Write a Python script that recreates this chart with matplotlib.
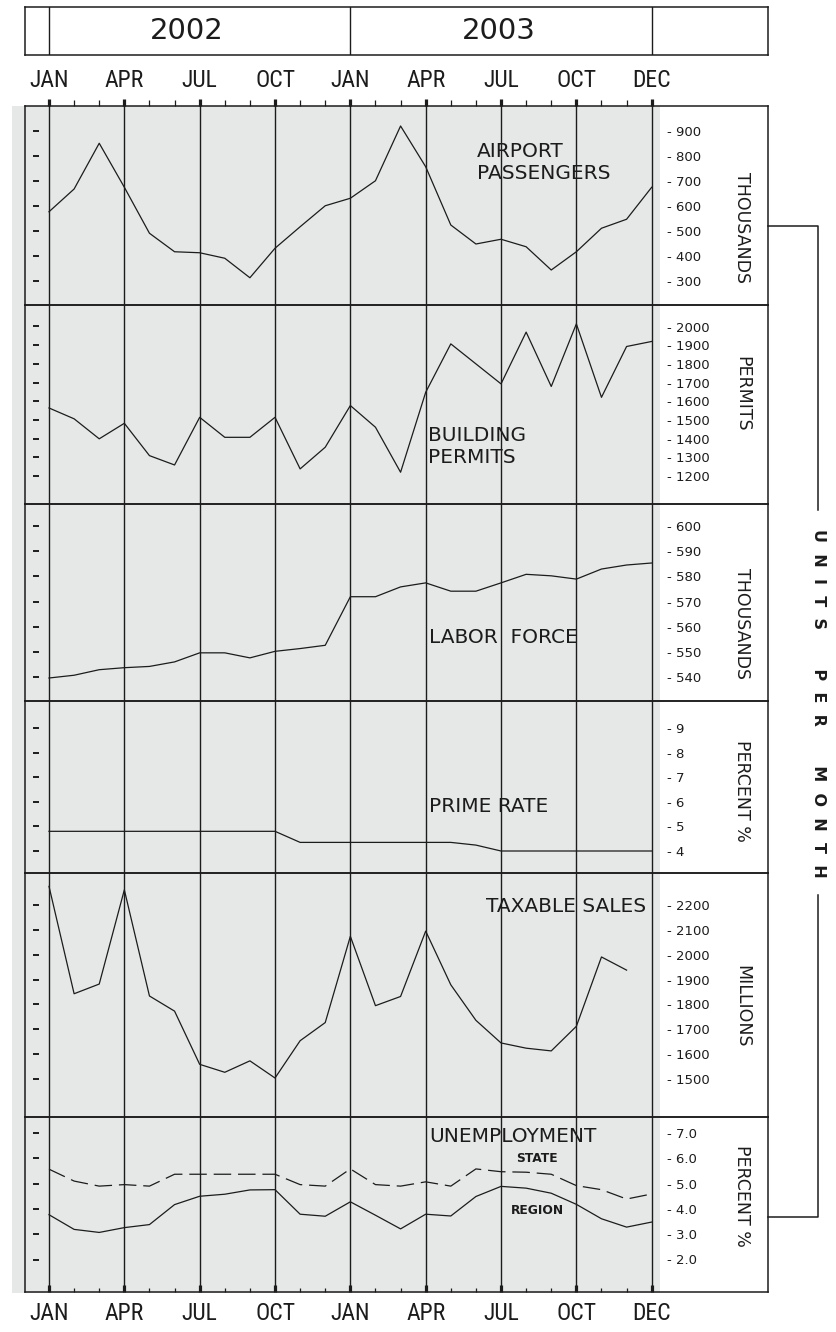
import numpy as np
import matplotlib
matplotlib.use("Agg")
import matplotlib.pyplot as plt
from matplotlib import font_manager
from matplotlib.patches import Rectangle
from matplotlib.lines import Line2D

# ---------------- data ----------------
month_idx = np.arange(25)
quarter_idx = np.arange(0, 25, 3)
month_labels = ["JAN", "APR", "JUL", "OCT", "JAN", "APR", "JUL", "OCT", "DEC"]
years = ["2002", "2003"]

airport = [577, 668, 851, 675, 491, 417, 413, 391, 313, 431, 517, 601, 631,
           701, 920, 757, 524, 448, 467, 437, 344, 417, 511, 547, 675]
permits = [1564, 1506, 1399, 1482, 1309, 1259, 1514, 1407, 1407, 1514, 1238,
           1354, 1577, 1461, 1220, 1648, 1907, 1800, 1693, 1970, 1679, 2014,
           1621, 1893, 1920]
labor = [539.6, 540.7, 542.9, 543.7, 544.2, 546.0, 549.6, 549.6, 547.6, 550.2,
         551.3, 552.6, 571.9, 571.9, 575.8, 577.4, 574.1, 574.1, 577.4, 580.8,
         580.2, 578.9, 582.9, 584.5, 585.3]
prime = [4.8, 4.8, 4.8, 4.8, 4.8, 4.8, 4.8, 4.8, 4.8, 4.8, 4.35, 4.35, 4.35,
         4.35, 4.35, 4.35, 4.35, 4.24, 4.0, 4.0, 4.0, 4.0, 4.0, 4.0, 4.0]
taxable = [2275, 1843, 1882, 2261, 1834, 1773, 1559, 1527, 1573, 1504, 1654,
           1727, 2074, 1795, 1832, 2095, 1879, 1736, 1645, 1624, 1613, 1712,
           1991, 1938]
unemp_state = [5.57, 5.10, 4.90, 4.96, 4.90, 5.37, 5.37, 5.37, 5.37, 5.37,
               4.96, 4.90, 5.58, 4.96, 4.90, 5.07, 4.90, 5.58, 5.47, 5.45,
               5.37, 4.92, 4.76, 4.39, 4.59]
unemp_region = [3.77, 3.19, 3.07, 3.26, 3.38, 4.17, 4.50, 4.58, 4.75, 4.76,
                3.79, 3.71, 4.28, 3.75, 3.21, 3.79, 3.72, 4.49, 4.89, 4.82,
                4.62, 4.18, 3.61, 3.28, 3.48]

p1_ticks = [300, 400, 500, 600, 700, 800, 900]
p2_ticks = [1200, 1300, 1400, 1500, 1600, 1700, 1800, 1900, 2000]
p3_ticks = [540, 550, 560, 570, 580, 590, 600]
p4_ticks = [4, 5, 6, 7, 8, 9]
p5_ticks = [1500, 1600, 1700, 1800, 1900, 2000, 2100, 2200]
p6_ticks = [2.0, 3.0, 4.0, 5.0, 6.0, 7.0]

# ---------------- layout helpers ----------------
W, H, DPI = 836, 1332, 100
LC = "#1c1c1c"
GREY = "#e6e7e7"

fig = plt.figure(figsize=(W / DPI, H / DPI), dpi=DPI)
fig.patch.set_facecolor("white")


def fx(x):
    return x / W


def fy(y):
    return 1 - y / H


names = {f.name for f in font_manager.fontManager.ttflist}
if "Liberation Sans Narrow" in names:
    NARROW = dict(family="Liberation Sans Narrow")
elif "Roboto Condensed" in names:
    NARROW = dict(family="Roboto Condensed")
elif any(f.name == "DejaVu Sans" and "condensed" in str(f.stretch)
         for f in font_manager.fontManager.ttflist):
    NARROW = dict(family="DejaVu Sans", stretch="condensed")
else:
    NARROW = dict(family="DejaVu Sans")

X0, X1 = 25, 768
XJ = 49.0
DX = (651.7 - 49.0) / 24
XLIM = ((X0 - XJ) / DX, (X1 - XJ) / DX)

# grey background of the plotting field
fig.add_artist(Rectangle((fx(12), fy(1293)), fx(660) - fx(12), (1293 - 106) / H,
                         transform=fig.transFigure, facecolor=GREY,
                         edgecolor="none", zorder=-5))

bounds = [105.5, 305, 504, 701, 873, 1116.5, 1292]


def make_ax(top, bot):
    ax = fig.add_axes([fx(X0), fy(bot), fx(X1) - fx(X0), (bot - top) / H])
    ax.set_facecolor("none")
    ax.set_xlim(*XLIM)
    for sp in ax.spines.values():
        sp.set_linewidth(1.1)
        sp.set_color(LC)
    ax.set_xticks([])
    ax.set_yticks([])
    for q in quarter_idx:
        ax.axvline(q, color=LC, lw=1.0, zorder=1)
    return ax


def set_ylim(ax, top, bot, v1, y1, v2, y2):
    k = (v1 - v2) / (y2 - y1)
    ax.set_ylim(v1 - (bot - y1) * k, v1 + (y1 - top) * k)


def scale_labels(ax, ticks, fmt):
    xr = (667 - XJ) / DX
    xl = (36 - XJ) / DX
    for v in ticks:
        ax.text(xr, v, "- " + fmt.format(v), ha="left", va="center_baseline",
                fontsize=9.5, color=LC, family="DejaVu Sans")
    ax.plot(np.full(len(ticks), xl), ticks, ls="none", marker="_", ms=4.5,
            mew=1.4, color=LC)


panel_specs = [
    (p1_ticks, "{:d}", (900, 131, 300, 281), "THOUSANDS", 227.5),
    (p2_ticks, "{:d}", (2000, 326.5, 1200, 476), "PERMITS", 394),
    (p3_ticks, "{:d}", (600, 526, 540, 677), "THOUSANDS", 624),
    (p4_ticks, "{:d}", (9, 728, 4, 851), "PERCENT %", 790.5),
    (p5_ticks, "{:d}", (2200, 905, 1500, 1079), "MILLIONS", 1006),
    (p6_ticks, "{:.1f}", (7.0, 1133, 2.0, 1259.5), "PERCENT %", 1196),
]

axes = []
for i, (ticks, fmt, ref, unit, uy) in enumerate(panel_specs):
    top, bot = bounds[i], bounds[i + 1]
    ax = make_ax(top, bot)
    set_ylim(ax, top, bot, *ref)
    scale_labels(ax, ticks, fmt)
    fig.text(fx(742), fy(uy), unit, rotation=-90, ha="center", va="center",
             fontsize=12.5, color=LC, family="DejaVu Sans")
    axes.append(ax)

lw_data = 0.9
axes[0].plot(month_idx, airport, color=LC, lw=lw_data, zorder=3)
axes[1].plot(month_idx, permits, color=LC, lw=lw_data, zorder=3)
axes[2].plot(month_idx, labor, color=LC, lw=lw_data, zorder=3)
axes[3].plot(month_idx, prime, color=LC, lw=lw_data, zorder=3)
axes[4].plot(month_idx[:len(taxable)], taxable, color=LC, lw=lw_data, zorder=3)
axes[5].plot(month_idx, unemp_state, color=LC, lw=lw_data, zorder=3,
             linestyle=(0, (14, 5.5)))
axes[5].plot(month_idx, unemp_region, color=LC, lw=lw_data, zorder=3)

# ---------------- month ticks and labels ----------------
top_ax = axes[0]
top_ax.set_xticks(quarter_idx)
top_ax.set_xticks(month_idx, minor=True)
top_ax.set_xticklabels(month_labels, fontsize=17, color=LC, **NARROW)
top_ax.tick_params(axis="x", which="both", bottom=False, top=True,
                   labelbottom=False, labeltop=True, direction="out",
                   color=LC)
top_ax.tick_params(axis="x", which="major", length=5.4, width=2.3, pad=4.0)
top_ax.tick_params(axis="x", which="minor", length=4.0, width=0.9)

bot_ax = axes[-1]
bot_ax.set_xticks(quarter_idx)
bot_ax.set_xticks(month_idx, minor=True)
bot_ax.set_xticklabels(month_labels, fontsize=17, color=LC, **NARROW)
bot_ax.tick_params(axis="x", which="both", bottom=True, top=False,
                   labelbottom=True, direction="in", color=LC)
bot_ax.tick_params(axis="x", which="major", length=4.8, width=2.3, pad=7.0)
bot_ax.tick_params(axis="x", which="minor", length=3.2, width=0.9)

# ---------------- header with years ----------------
hax = fig.add_axes([fx(X0), fy(55), fx(X1) - fx(X0), (55 - 7) / H])
hax.set_xlim(*XLIM)
hax.set_ylim(0, 1)
hax.set_xticks([])
hax.set_yticks([])
for sp in hax.spines.values():
    sp.set_linewidth(1.1)
    sp.set_color(LC)
for q in (0, 12, 24):
    hax.axvline(q, color=LC, lw=1.0)
hax.text(5.5, 0.5, years[0], ha="center", va="center", fontsize=21, color=LC)
hax.text(17.9, 0.5, years[1], ha="center", va="center", fontsize=21, color=LC)

# ---------------- panel titles ----------------
TF = dict(fontsize=14.5, color=LC, family="DejaVu Sans")
fig.text(fx(477), fy(157), "AIRPORT", ha="left", va="baseline", **TF)
fig.text(fx(477), fy(179), "PASSENGERS", ha="left", va="baseline", **TF)
fig.text(fx(428), fy(441.5), "BUILDING", ha="left", va="baseline", **TF)
fig.text(fx(428), fy(463), "PERMITS", ha="left", va="baseline", **TF)
fig.text(fx(429), fy(642.5), "LABOR  FORCE", ha="left", va="baseline", **TF)
fig.text(fx(429), fy(811.5), "PRIME RATE", ha="left", va="baseline", **TF)
fig.text(fx(646), fy(912.5), "TAXABLE SALES", ha="right", va="baseline", **TF)
fig.text(fx(429), fy(1142), "UNEMPLOYMENT", ha="left", va="baseline", **TF)
fig.text(fx(537), fy(1159), "STATE", ha="center", va="center",
         fontsize=8.8, fontweight="bold", color=LC)
fig.text(fx(537), fy(1211), "REGION", ha="center", va="center",
         fontsize=8.8, fontweight="bold", color=LC)

# ---------------- bracket and side caption ----------------
fig.add_artist(Line2D([fx(768), fx(818), fx(818)], [fy(225.7), fy(225.7), fy(510)],
                      transform=fig.transFigure, color=LC, lw=1.1))
fig.add_artist(Line2D([fx(818), fx(818), fx(768)], [fy(895), fy(1216.7), fy(1216.7)],
                      transform=fig.transFigure, color=LC, lw=1.1))
fig.text(fx(818), fy(703.5),
         "U  N  I  T  S       P  E  R       M  O  N  T  H",
         rotation=-90, ha="center", va="center", fontsize=11.5,
         fontweight="bold", color=LC)

fig.savefig("out.png", dpi=DPI)
